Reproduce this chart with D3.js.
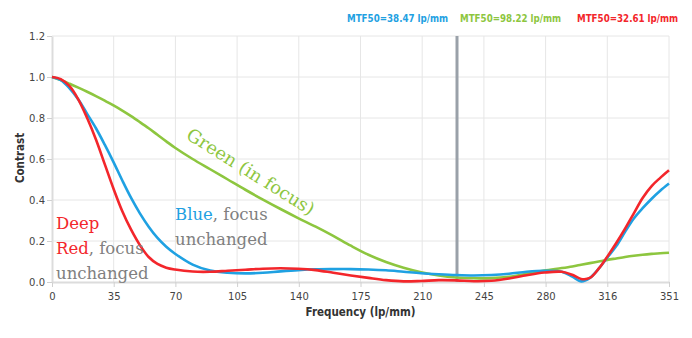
<!DOCTYPE html>
<html>
<head>
<meta charset="utf-8">
<script src="https://cdn.jsdelivr.net/npm/d3@7"></script>
<style>
  body { margin: 0; background: #fff; }
  svg { display: block; }
</style>
</head>
<body>
<svg id="mtf-chart"></svg>
<script>
// frequency samples (lp/mm)
const freqs = [0, 5, 10, 15, 20, 25, 30, 35, 40, 45, 50, 55, 60, 65, 70, 80, 90, 100, 110, 120,
  130, 140, 150, 160, 170, 180, 190, 200, 210, 220, 230, 240, 250, 260, 270, 280, 290, 296,
  301, 306, 311, 316, 321, 326, 331, 336, 341, 346, 351];

const blueValues = [1.0, 0.985, 0.945, 0.89, 0.82, 0.75, 0.67, 0.585, 0.495, 0.41, 0.335, 0.27,
  0.215, 0.172, 0.138, 0.085, 0.056, 0.045, 0.042, 0.045, 0.052, 0.058, 0.062, 0.063, 0.063, 0.061,
  0.057, 0.05, 0.043, 0.038, 0.034, 0.032, 0.034, 0.04, 0.05, 0.055, 0.05, 0.026, 0.003, 0.02,
  0.065, 0.12, 0.175, 0.245, 0.31, 0.36, 0.405, 0.445, 0.48];

const greenValues = [1.0, 0.985, 0.967, 0.948, 0.928, 0.907, 0.885, 0.861, 0.836, 0.809, 0.78, 0.75,
  0.718, 0.686, 0.655, 0.6, 0.55, 0.5, 0.45, 0.402, 0.356, 0.312, 0.27, 0.225, 0.177, 0.133, 0.098,
  0.07, 0.048, 0.032, 0.022, 0.018, 0.019, 0.026, 0.04, 0.056, 0.068, 0.076, 0.084, 0.092, 0.1,
  0.108, 0.115, 0.122, 0.128, 0.133, 0.137, 0.14, 0.143];

const redValues = [1.0, 0.99, 0.955, 0.89, 0.8, 0.695, 0.575, 0.455, 0.345, 0.255, 0.18, 0.122, 0.088,
  0.07, 0.061, 0.051, 0.05, 0.055, 0.06, 0.065, 0.067, 0.065, 0.058, 0.045, 0.032, 0.02, 0.009,
  0.003, 0.005, 0.009, 0.008, 0.004, 0.006, 0.017, 0.033, 0.046, 0.05, 0.035, 0.015, 0.02, 0.065,
  0.125, 0.19, 0.26, 0.335, 0.41, 0.467, 0.508, 0.545];

const xTickValues = [0, 35.1, 70.2, 105.3, 140.4, 175.5, 210.6, 245.7, 280.8, 315.9, 351];
const xTickLabels = ["0", "35", "70", "105", "140", "175", "210", "245", "280", "316", "351"];
const yTickValues = [0, 0.2, 0.4, 0.6, 0.8, 1.0, 1.2];

const markerFreq = 230.4;
const legendLabels = ["MTF50=38.47 lp/mm", "MTF50=98.22 lp/mm", "MTF50=32.61 lp/mm"];

const colors = { blue: "#1fa1e2", green: "#8dc63f", red: "#f3262b", gray: "#808080" };

class MtfChart {
  constructor(props) {
    this.props = props;
    this.initVizSpace();
    this.initScale();
    this.initGrid();
    this.initAxis();
    this.drawMarker();
    this.drawLines();
    this.drawLegend();
    this.drawNotes();
  }

  initVizSpace() {
    const { outer, margin } = this.props;
    this.width = outer.width - margin.left - margin.right;
    this.height = outer.height - margin.top - margin.bottom;
    this.root = d3.select("#mtf-chart").attr("width", outer.width).attr("height", outer.height);
    this.svg = this.root.append("g")
      .attr("transform", `translate(${margin.left}, ${margin.top})`);
  }

  initScale() {
    this.x = d3.scaleLinear().domain([0, 351]).range([0, this.width]);
    this.y = d3.scaleLinear().domain([0, 1.2]).range([this.height, 0]);
  }

  initGrid() {
    const grid = this.svg.append("g").attr("class", "grid");
    grid.selectAll(".vgrid").data(xTickValues.slice(1)).join("line")
      .attr("x1", d => this.x(d)).attr("x2", d => this.x(d))
      .attr("y1", 0).attr("y2", this.height)
      .attr("stroke", "#e6e6e6").attr("stroke-width", 1);
    grid.selectAll(".hgrid").data(yTickValues.slice(1)).join("line")
      .attr("x1", 0).attr("x2", this.width)
      .attr("y1", d => this.y(d)).attr("y2", d => this.y(d))
      .attr("stroke", "#e6e6e6").attr("stroke-width", 1);
  }

  initAxis() {
    const font = "'DejaVu Sans', sans-serif";

    const xAxis = this.svg.append("g")
      .attr("transform", `translate(0, ${this.height})`)
      .call(d3.axisBottom(this.x).tickValues(xTickValues).tickSize(5).tickSizeOuter(0)
        .tickFormat((d, i) => xTickLabels[i]));
    xAxis.select(".domain").attr("stroke", "#dcdcdc").attr("stroke-width", 2);
    xAxis.selectAll(".tick line").attr("stroke", "#d0d0d0");
    xAxis.selectAll("text").attr("fill", "#444").style("font", `10px ${font}`).attr("dy", "0.95em");

    const yAxis = this.svg.append("g")
      .call(d3.axisLeft(this.y).tickValues(yTickValues).tickSize(5).tickSizeOuter(0)
        .tickFormat(d3.format(".1f")));
    yAxis.select(".domain").attr("stroke", "#dcdcdc").attr("stroke-width", 2);
    yAxis.selectAll(".tick line").attr("stroke", "#d0d0d0");
    yAxis.selectAll("text").attr("fill", "#444").style("font", `10px ${font}`).attr("x", -7);

    this.svg.append("text")
      .attr("x", this.width / 2).attr("y", this.height + 34)
      .attr("text-anchor", "middle").attr("fill", "#333")
      .style("font", `bold 11.5px 'DejaVu Sans Condensed', 'DejaVu Sans', sans-serif`)
      .text("Frequency (lp/mm)");

    this.svg.append("text")
      .attr("transform", `translate(-28, ${this.height / 2 - 1}) rotate(-90)`)
      .attr("text-anchor", "middle").attr("fill", "#333")
      .style("font", `bold 11.5px 'DejaVu Sans Condensed', 'DejaVu Sans', sans-serif`)
      .text("Contrast");
  }

  drawMarker() {
    this.svg.append("line")
      .attr("x1", this.x(markerFreq)).attr("x2", this.x(markerFreq))
      .attr("y1", this.y(1.2)).attr("y2", this.y(0))
      .attr("stroke", "#9aa1a9").attr("stroke-width", 3);
  }

  drawLines() {
    this.drawLine(greenValues, colors.green);
    this.drawLine(blueValues, colors.blue);
    this.drawLine(redValues, colors.red);
  }

  drawLine(values, color) {
    const line = d3.line()
      .x((d, i) => this.x(freqs[i]))
      .y(d => this.y(d))
      .curve(d3.curveCatmullRom.alpha(0.5));
    this.svg.append("path")
      .datum(values)
      .attr("fill", "none")
      .attr("stroke", color)
      .attr("stroke-width", 2.6)
      .attr("stroke-linejoin", "round")
      .attr("d", line);
  }

  drawLegend() {
    const legendColors = [colors.blue, colors.green, colors.red];
    const xs = [347, 460, 577];
    this.root.append("g").selectAll("text").data(legendLabels).join("text")
      .attr("x", (d, i) => xs[i]).attr("y", 22)
      .attr("fill", (d, i) => legendColors[i])
      .style("font", `bold 9.7px 'DejaVu Sans Condensed', 'DejaVu Sans', sans-serif`)
      .text(d => d);
  }

  drawNotes() {
    const serif = "16.5px 'DejaVu Serif', serif";
    const notes = this.root.append("g").style("font", serif);

    notes.append("text")
      .attr("transform", "translate(185, 138) rotate(32)")
      .attr("fill", colors.green)
      .style("font-size", "18px")
      .text("Green (in focus)");

    const blue1 = notes.append("text").attr("x", 175).attr("y", 220);
    blue1.append("tspan").attr("fill", colors.blue).text("Blue");
    blue1.append("tspan").attr("fill", colors.gray).text(", focus");
    notes.append("text").attr("x", 175).attr("y", 245).attr("fill", colors.gray).text("unchanged");

    notes.append("text").attr("x", 56).attr("y", 229).attr("fill", colors.red).text("Deep");
    const red2 = notes.append("text").attr("x", 56).attr("y", 254);
    red2.append("tspan").attr("fill", colors.red).text("Red");
    red2.append("tspan").attr("fill", colors.gray).text(", focus");
    notes.append("text").attr("x", 56).attr("y", 279).attr("fill", colors.gray).text("unchanged");
  }
}

new MtfChart({
  outer: { width: 692, height: 338 },
  margin: { top: 36, left: 52, right: 23, bottom: 56 }
});
</script>
</body>
</html>
